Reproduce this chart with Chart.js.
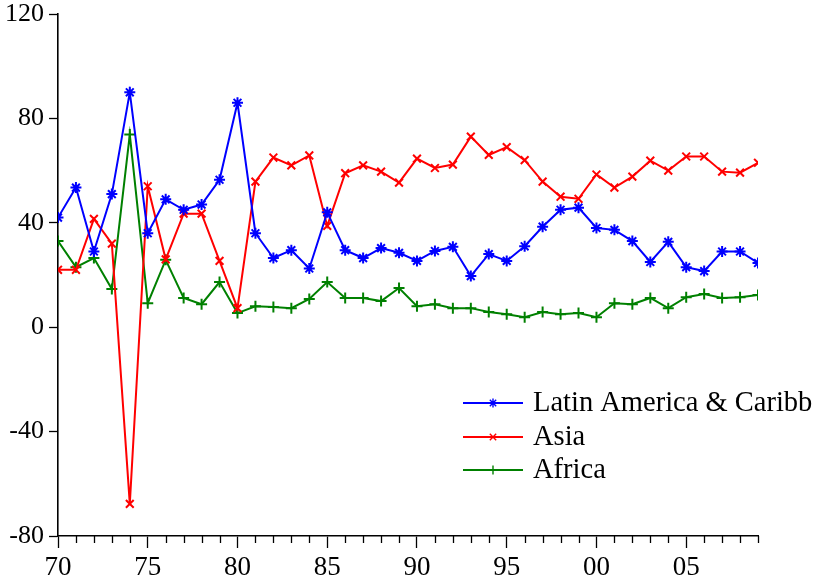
<!DOCTYPE html>
<html>
<head>
<meta charset="utf-8">
<script src="https://cdn.jsdelivr.net/npm/chart.js@4/dist/chart.umd.min.js"></script>
<style>
  body { margin: 0; background: #fff; }
  #wrap { width: 813px; height: 580px; }
</style>
</head>
<body>
<div id="wrap"><canvas id="chart" width="813" height="580"></canvas></div>
<script>
var years = [1970, 1971, 1972, 1973, 1974, 1975, 1976, 1977, 1978, 1979,
             1980, 1981, 1982, 1983, 1984, 1985, 1986, 1987, 1988, 1989,
             1990, 1991, 1992, 1993, 1994, 1995, 1996, 1997, 1998, 1999,
             2000, 2001, 2002, 2003, 2004, 2005, 2006, 2007, 2008, 2009];

var latinAmerica = [42, 53.5, 29, 51, 90, 36, 49, 45, 47, 56.5,
                    86, 36, 26.5, 29.5, 22.5, 44, 29.5, 26.5, 30.3, 28.5,
                    25.4, 29.2, 30.8, 19.6, 28, 25.4, 31, 38.5, 45, 45.8,
                    38, 37.3, 33, 25, 32.7, 23, 21.5, 29, 29, 24.6];

var asia = [22, 22, 41.5, 32, -67.7, 54, 26, 43.5, 43.5, 25.4,
            7.3, 55.8, 65, 62, 65.8, 38.8, 59, 62, 59.6, 55.4,
            64.6, 61, 62.3, 73, 66, 69, 64, 55.8, 50, 49.2,
            58.5, 53.5, 57.7, 63.8, 60, 65.4, 65.4, 59.6, 59.2, 63];

var africa = [33, 23, 26.5, 14.6, 73.8, 9.2, 25.8, 11.2, 8.8, 17.3,
              5.4, 8, 7.7, 7.3, 10.8, 17.3, 11.2, 11.2, 10, 15,
              8, 8.8, 7.3, 7.3, 5.8, 5, 3.8, 5.8, 5, 5.4,
              3.8, 9.2, 8.8, 11.2, 7.3, 11.5, 12.7, 11.2, 11.5, 12.3];

var yTicks = [-80, -40, 0, 40, 80, 120];

var FONT = '"Liberation Serif", "Times New Roman", serif';

function toPoints(values) {
    var pts = [];
    for (var i = 0; i < years.length; i++) {
        pts.push({ x: years[i], y: values[i] });
    }
    return pts;
}

function makeDataset(label, color, style, values) {
    return {
        label: label,
        data: toPoints(values),
        borderColor: color,
        backgroundColor: color,
        borderWidth: 2,
        pointStyle: style,
        pointRadius: 5.5,
        pointBorderWidth: 2,
        pointBorderColor: color,
        pointHoverRadius: 5.5,
        tension: 0,
        fill: false
    };
}

var series = [
    makeDataset("Latin America & Caribb", "#0000ff", "star", latinAmerica),
    makeDataset("Asia", "#ff0000", "crossRot", asia),
    makeDataset("Africa", "#008000", "cross", africa)
];

function drawMarker(ctx, style, x, y, r) {
    ctx.beginPath();
    if (style === "cross" || style === "star") {
        ctx.moveTo(x - r, y); ctx.lineTo(x + r, y);
        ctx.moveTo(x, y - r); ctx.lineTo(x, y + r);
    }
    if (style === "crossRot" || style === "star") {
        var d = r * Math.SQRT1_2;
        ctx.moveTo(x - d, y - d); ctx.lineTo(x + d, y + d);
        ctx.moveTo(x - d, y + d); ctx.lineTo(x + d, y - d);
    }
    ctx.stroke();
}

// minor year ticks and the legend box inside the plot
var extras = {
    id: "extras",
    afterDraw: function(chart) {
        var ctx = chart.ctx;
        var xs = chart.scales.x;
        var bottom = chart.chartArea.bottom;
        ctx.save();
        ctx.strokeStyle = "#000";
        ctx.lineWidth = 1.3;
        for (var i = 0; i < years.length; i++) {
            if (years[i] % 5 === 0) continue;
            var px = Math.round(xs.getPixelForValue(years[i])) + 0.5;
            ctx.beginPath();
            ctx.moveTo(px, bottom);
            ctx.lineTo(px, bottom + 7);
            ctx.stroke();
        }

        var rowY = [403, 437, 470];
        ctx.font = "28.5px " + FONT;
        ctx.textBaseline = "middle";
        ctx.textAlign = "left";
        for (var s = 0; s < series.length; s++) {
            var ds = series[s];
            ctx.strokeStyle = ds.borderColor;
            ctx.lineWidth = 2;
            ctx.beginPath();
            ctx.moveTo(463, rowY[s]);
            ctx.lineTo(523, rowY[s]);
            ctx.stroke();
            ctx.lineWidth = 1.4;
            drawMarker(ctx, ds.pointStyle, 493, rowY[s], 4.5);
            ctx.fillStyle = "#000";
            ctx.fillText(ds.label, 533, rowY[s] + 1);
        }
        ctx.restore();
    }
};

new Chart(document.getElementById("chart"), {
    type: "line",
    data: { datasets: series },
    options: {
        responsive: false,
        animation: false,
        events: [],
        layout: { padding: { top: 14, right: 55, left: 0, bottom: 0 } },
        plugins: {
            legend: { display: false },
            tooltip: { enabled: false }
        },
        scales: {
            x: {
                type: "linear",
                min: 1970,
                max: 2009,
                afterFit: function(scale) { scale.height = 44; },
                afterBuildTicks: function(scale) {
                    scale.ticks = years.map(function(y) { return { value: y }; });
                },
                ticks: {
                    autoSkip: false,
                    maxRotation: 0,
                    padding: 4,
                    color: "#000",
                    font: { family: FONT, size: 27 },
                    callback: function(v) {
                        return v % 5 === 0 ? String(v).slice(2) : "";
                    }
                },
                grid: {
                    drawOnChartArea: false,
                    drawTicks: true,
                    tickLength: 12,
                    tickWidth: 1.3,
                    tickColor: function(c) {
                        return c.tick && c.tick.value % 5 === 0 ? "#000" : "rgba(0,0,0,0)";
                    }
                },
                border: { display: true, color: "#000", width: 1.6 }
            },
            y: {
                min: -80,
                max: 120,
                afterFit: function(scale) { scale.width = 58; },
                afterBuildTicks: function(scale) {
                    scale.ticks = yTicks.map(function(v) { return { value: v }; });
                },
                ticks: {
                    padding: 5,
                    color: "#000",
                    font: { family: FONT, size: 26, lineHeight: 0.4 }
                },
                grid: {
                    drawOnChartArea: false,
                    drawTicks: true,
                    tickLength: 9,
                    tickWidth: 1.3,
                    tickColor: "#000"
                },
                border: { display: true, color: "#000", width: 1.6 }
            }
        }
    },
    plugins: [extras]
});
</script>
</body>
</html>
